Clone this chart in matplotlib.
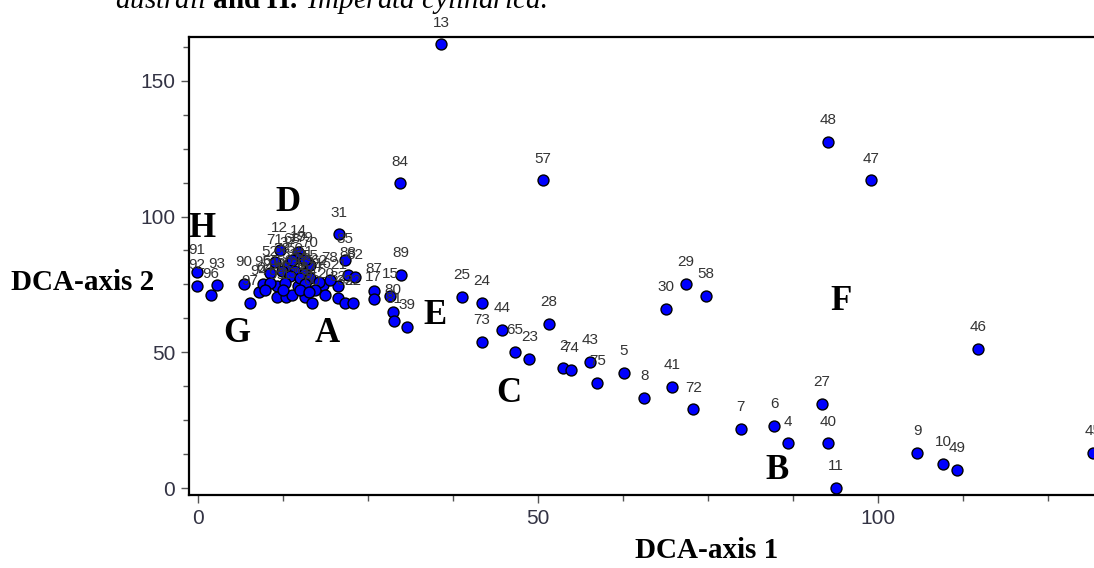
# -*- coding: utf-8 -*-
"""
DCA ordination of the sample plots (axis 1 vs axis 2), with group letters.
"""

import matplotlib
matplotlib.use("Agg")
from matplotlib import pyplot as plt
from matplotlib.ticker import MultipleLocator

#_____________________________________________________
#DATA (site scores)

site_ids = ["13", "48", "47", "57", "84", "31", "89", "25", "24", "44",
            "73", "65", "23", "28", "2", "74", "43", "75", "5", "8",
            "41", "72", "30", "29", "58", "7", "6", "4", "27", "40",
            "11", "46", "9", "10", "49", "45",
            "87", "17", "15", "80", "81", "39",
            "85", "88", "82", "16", "20", "21", "32", "33", "22",
            "91", "92", "93", "96", "90", "97", "94", "95", "98", "99",
            "1", "3", "26", "59", "60",
            "12", "14", "19", "37", "38", "50", "51", "52", "53", "54",
            "55", "56", "61", "62", "63", "64", "68", "70", "71", "76",
            "77", "78", "79", "34", "18"]

axis1 = [35.8, 92.7, 99.0, 50.8, 29.8, 20.8, 29.9, 38.9, 41.8, 44.8,
         41.8, 46.7, 48.8, 51.7, 53.8, 54.9, 57.7, 58.8, 62.7, 65.7,
         69.8, 72.9, 68.9, 71.8, 74.8, 79.9, 84.8, 86.8, 91.8, 92.7,
         93.9, 114.8, 105.8, 109.6, 111.7, 131.7,
         25.9, 25.9, 28.3, 28.7, 28.9, 30.8,
         21.7, 22.1, 23.2, 18.5, 18.8, 20.7, 20.7, 21.7, 22.9,
         -0.1, -0.1, 2.9, 2.0, 6.8, 7.7, 9.0, 9.6, 11.7, 11.7,
         13.0, 13.9, 14.8, 15.8, 16.8,
         12.1, 14.8, 14.8, 13.3, 12.4, 14.3, 15.8, 10.7, 13.6, 15.1,
         16.5, 12.9, 10.7, 17.8, 15.8, 9.9, 13.9, 16.5, 11.4, 15.1,
         17.3, 19.5, 15.8, 16.4, 12.6]

axis2 = [163.4, 127.4, 113.4, 113.4, 112.3, 93.4, 78.5, 70.4, 68.2, 58.3,
         53.9, 50.2, 47.6, 60.5, 44.3, 43.6, 46.5, 38.8, 42.5, 33.3,
         37.3, 29.2, 66.0, 75.2, 70.8, 21.9, 23.0, 16.7, 31.1, 16.7,
         0.2, 51.3, 13.1, 9.0, 6.8, 13.1,
         72.6, 69.7, 70.8, 64.9, 61.6, 59.4,
         83.9, 78.5, 77.8, 74.8, 71.1, 74.4, 70.0, 68.2, 68.2,
         79.6, 74.4, 74.8, 71.1, 75.2, 68.2, 72.2, 75.2, 74.4, 70.4,
         70.4, 71.1, 74.4, 70.4, 68.2,
         87.7, 86.9, 84.7, 82.2, 80.0, 80.0, 79.2, 79.2, 78.1, 77.4,
         77.4, 75.6, 75.6, 75.9, 75.2, 73.0, 83.9, 82.2, 83.3, 73.0,
         73.0, 76.7, 84.0, 72.2, 73.0]

# group letters and where they sit in the diagram
group_letters = ["H", "D", "G", "A", "E", "C", "B", "F"]
group_x = [0.7, 13.3, 5.8, 19.0, 34.9, 45.8, 85.2, 94.6]
group_y = [92.3, 102.2, 53.9, 53.9, 60.3, 31.8, 3.3, 65.8]

#_____________________________________________________
#PLOT

plt.rcParams["font.family"] = ["Liberation Sans", "DejaVu Sans"]
plt.rcParams["mathtext.fontset"] = "custom"
plt.rcParams["mathtext.rm"] = "Liberation Serif"
plt.rcParams["mathtext.it"] = "Liberation Serif:italic"
plt.rcParams["mathtext.bf"] = "Liberation Serif:bold"

fig = plt.figure(figsize=(10.94, 5.68), dpi=100)
# the frame runs past the right edge of the picture, as in the original
ax = fig.add_axes([189 / 1094, 73 / 568, 911 / 1094, 458 / 568])

ax.scatter(axis1, axis2, s=62, c="#0000ff", edgecolors="black",
           linewidths=1.0, zorder=3, clip_on=False)

for sid, x, y in zip(site_ids, axis1, axis2):
    ax.annotate(sid, (x, y), xytext=(0, 15.5), textcoords="offset points",
                ha="center", va="center", fontsize=11, color="#333333",
                zorder=4, annotation_clip=False)

for letter, x, y in zip(group_letters, group_x, group_y):
    ax.text(x, y, letter, ha="center", va="baseline", fontsize=25,
            fontweight="bold", family="Liberation Serif", color="black",
            zorder=5)

ax.set_xlim(-1.25, 132.7)
ax.set_ylim(-2.4, 166.0)

ax.xaxis.set_major_locator(MultipleLocator(50))
ax.xaxis.set_minor_locator(MultipleLocator(12.5))
ax.yaxis.set_major_locator(MultipleLocator(50))
ax.yaxis.set_minor_locator(MultipleLocator(12.5))
ax.tick_params(which="major", direction="out", length=6, width=1,
               labelsize=15, labelcolor="#333344", color="#555555", pad=4)
ax.tick_params(which="minor", direction="out", length=4, width=1,
               color="#555555")

for side in ["left", "top", "bottom"]:
    ax.spines[side].set_linewidth(1.6)
    ax.spines[side].set_color("black")
ax.spines["right"].set_visible(False)

fig.text(83 / 1094, 1 - 283 / 568, "DCA-axis 2", ha="center", va="center",
         fontsize=21, fontweight="bold", family="Liberation Serif")
fig.text(707 / 1094, 1 - 550 / 568, "DCA-axis 1", ha="center", va="center",
         fontsize=21, fontweight="bold", family="Liberation Serif")

# caption line from the page above, cut off by the crop
fig.text(115 / 1094, 1 - 8 / 568,
         r"$\mathit{australi}\ \mathbf{and\ H.}\ \mathit{Imperata\ cylindrica.}$",
         ha="left", va="baseline", fontsize=21)

fig.savefig("out.png", dpi=100)
